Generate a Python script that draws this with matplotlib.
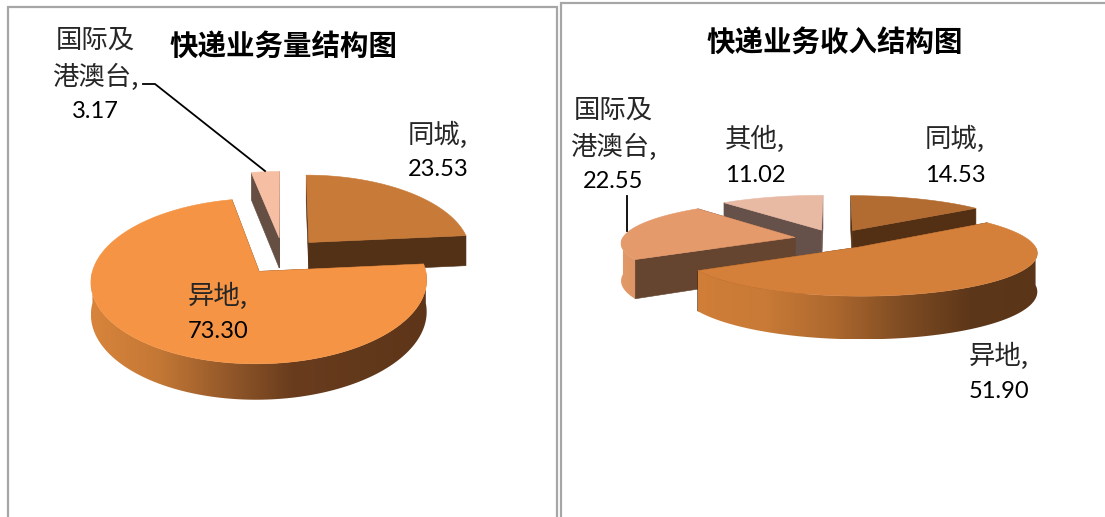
import numpy as np
import matplotlib
matplotlib.use("Agg")
import matplotlib.pyplot as plt
from matplotlib.patches import Polygon
from matplotlib.colors import to_rgb

# ---- data ----
left_title = "快递业务量结构图"
left_categories = ["同城", "异地", "国际及\n港澳台"]
left_values = [23.53, 73.30, 3.17]

right_title = "快递业务收入结构图"
right_categories = ["同城", "异地", "国际及\n港澳台", "其他"]
right_values = [14.53, 51.90, 22.55, 11.02]

CJK = ["Noto Sans CJK SC", "DejaVu Sans"]
NUM = ["Lato", "Noto Sans CJK SC"]

# ---- view settings ----
left_view = dict(cx=283, cy=256, rx=163, ry=78, p=0.115, e=0.24, d=31)
right_view = dict(cx=835, cy=239, rx=173, ry=41, p=0.12, e=0.235, d=37)

left_style = [
    dict(top="#C87A38", face="#533117", rim=["#533117", "#533117"]),
    dict(top="#F49444", face="#533117",
         rim=["#D8843C", "#C47835", "#95592A", "#693C1D", "#63391B", "#5E3519"]),
    dict(top="#F6BFA3", face="#654E42", rim=["#654E42", "#654E42"]),
]
right_style = [
    dict(top="#B26B30", face="#532F14", rim=["#532F14", "#532F14"]),
    dict(top="#D47F3A", face="#532F14",
         rim=["#D07E38", "#C87A36", "#AD682E", "#7F4C23", "#5D3719", "#5A3518"]),
    dict(top="#E59A6B", face="#654430", rim=["#E39A6B", "#DD9565"]),
    dict(top="#E8B9A3", face="#66514A", rim=["#66514A", "#66514A"]),
]

fig = plt.figure(figsize=(11.05, 5.17), dpi=100)
ax = fig.add_axes([0, 0, 1, 1])
ax.axis("off")


def mix(stops, t):
    cols = np.array([to_rgb(c) for c in stops])
    pos = np.linspace(0, 1, len(stops))
    return np.stack([np.interp(t, pos, cols[:, i]) for i in range(3)], axis=-1)


def draw_pie(values, styles, view):
    vals = np.asarray(values, float)
    edges = np.concatenate([[0], np.cumsum(vals) / vals.sum() * 2 * np.pi])
    cx, cy, rx, ry, p, e, d = (view[k] for k in ("cx", "cy", "rx", "ry", "p", "e", "d"))

    def project(u, v):
        s = 1 / (1 + p * v)
        return cx + rx * u * s, cy - ry * v * s, s

    slices = []
    for i in range(len(vals)):
        a0, a1 = edges[i], edges[i + 1]
        mid = (a0 + a1) / 2
        slices.append((e * np.cos(mid), i, a0, a1, e * np.sin(mid)))
    slices.sort(key=lambda t: -t[0])

    for z, (ov, i, a0, a1, ou) in enumerate(slices):
        st = styles[i]
        th = np.linspace(a0, a1, 200)
        x, y, s = project(ou + np.sin(th), ov + np.cos(th))
        ax0, ay0, as0 = project(ou, ov)
        zo = 2 + z * 3
        # radial cut faces
        for k in (0, -1):
            quad = [(ax0, ay0), (x[k], y[k]), (x[k], y[k] + d * s[k]), (ax0, ay0 + d * as0)]
            ax.add_patch(Polygon(quad, closed=True, fc=st["face"], ec=st["face"], lw=0.4, zorder=zo))
        # outer rim, front half only, shaded left to right
        lo, hi = max(a0, np.pi / 2), min(a1, 3 * np.pi / 2)
        if hi > lo:
            tr = np.linspace(lo, hi, 200)
            xr, yr, sr = project(ou + np.sin(tr), ov + np.cos(tr))
            outline = list(zip(xr, yr)) + list(zip(xr[::-1], (yr + d * sr)[::-1]))
            xmin, xmax = xr.min(), xr.max()
            ymin, ymax = yr.min(), (yr + d * sr).max()
            grad = mix(st["rim"], np.linspace(0, 1, 512))[None, :, :]
            clip = Polygon(outline, closed=True, transform=ax.transData)
            im = ax.imshow(grad, extent=(xmin, xmax, ymax, ymin), aspect="auto",
                           interpolation="bilinear", zorder=zo + 1)
            im.set_clip_path(clip)
        # top surface
        pts = [(ax0, ay0)] + list(zip(x, y))
        ax.add_patch(Polygon(pts, closed=True, fc=st["top"], ec=st["top"], lw=0.4, zorder=zo + 2))


def label(name, value, x, y, line=35, dy_val=35):
    lines = name.split("\n")
    lines[-1] += ","
    for k, t in enumerate(lines):
        ax.text(x, y + k * line, t, family=CJK, fontsize=19, color="#262626",
                ha="center", va="center", zorder=50)
    ax.text(x, y + (len(lines) - 1) * line + dy_val, f"{value:.2f}", family=NUM, fontsize=17,
            color="black", ha="center", va="center", zorder=50)


# panel frames
frame = "#A6A6A6"
ax.plot([8, 8, 557, 557], [517, 7, 7, 517], color=frame, lw=1.6, zorder=1, solid_joinstyle="miter")
ax.plot([561, 561, 1105], [517, 3, 3], color=frame, lw=1.6, zorder=1, solid_joinstyle="miter")

draw_pie(left_values, left_style, left_view)
draw_pie(right_values, right_style, right_view)

# titles
ax.text(283, 46.5, left_title, family=CJK, fontsize=20.5, fontweight="bold", ha="center", va="center", zorder=50)
ax.text(835, 42.5, right_title, family=CJK, fontsize=20.5, fontweight="bold", ha="center", va="center", zorder=50)

# labels
label(left_categories[0], left_values[0], 438, 135)
label(left_categories[1], left_values[1], 218, 296)
label(left_categories[2], left_values[2], 95, 40, line=37, dy_val=35)
label(right_categories[0], right_values[0], 955, 139, dy_val=37)
label(right_categories[1], right_values[1], 999, 356, dy_val=36)
label(right_categories[2], right_values[2], 613, 110, line=37, dy_val=35)
label(right_categories[3], right_values[3], 755, 139, dy_val=37)

# leader lines
ax.plot([143, 155, 265], [84, 84, 171], color="black", lw=1.3, zorder=40)
ax.plot([627, 627], [196, 231], color="black", lw=1.3, zorder=40)

ax.set_xlim(0, 1105)
ax.set_ylim(517, 0)

fig.savefig("out.png", dpi=100)
